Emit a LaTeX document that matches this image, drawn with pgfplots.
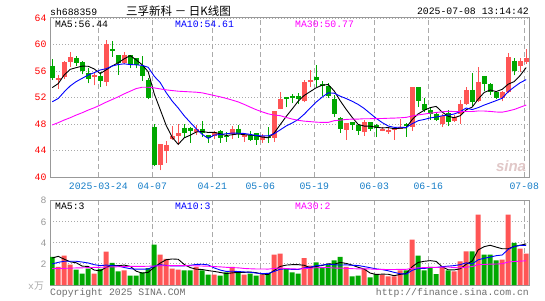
\documentclass[border=0pt]{standalone}
\usepackage{pgfplots}
\pgfplotsset{compat=1.18}
\usepackage{pgfplotstable}
\usepackage{fontspec}
\setmainfont{Liberation Mono}
\newfontfamily\cjk{Noto Sans CJK SC}
\newfontfamily\sinafont{Liberation Sans}
\definecolor{cred}{RGB}{255,85,85}
\definecolor{cgreen}{RGB}{0,168,0}
\definecolor{dateblue}{RGB}{22,126,200}
\definecolor{framegray}{RGB}{153,153,153}
\definecolor{gridgray}{RGB}{170,170,170}
\definecolor{txtgray}{RGB}{110,110,110}
\definecolor{magma}{RGB}{255,0,255}

\pgfplotstableread{
i o h l c v
1 54.63 55.39 53.32 55.0 1.71
2 55.04 57.5 54.8 57.35 2.78
3 57.37 58.89 56.66 58.05 1.93
7 55.09 55.75 53.82 55.35 1.08
9 54.4 60.7 53.7 60.1 3.16
12 57.2 58.85 57.0 58.35 1.39
18 41.8 45.0 41.0 45.0 2.88
19 43.9 45.4 42.1 44.9 2.47
20 45.75 47.7 45.6 46.25 1.55
21 46.2 48.0 44.9 46.7 1.46
24 46.8 47.9 46.4 47.3 1.71
27 46.15 46.95 45.7 46.85 0.98
30 46.45 47.65 45.75 47.3 1.71
32 46.1 46.5 45.3 46.3 0.98
35 45.6 46.45 45.1 46.2 0.98
37 45.9 50.0 45.3 50.0 2.88
38 50.3 52.85 50.2 51.8 2.97
42 51.4 54.6 51.25 54.35 2.56
43 54.3 56.15 53.55 54.7 1.84
49 47.15 48.2 45.65 48.15 1.71
52 46.75 48.65 46.25 48.3 1.52
55 46.95 47.6 46.9 47.3 0.98
56 46.8 47.5 46.55 47.15 0.82
57 47.15 47.6 45.6 47.45 0.82
58 47.25 48.7 47.2 47.55 1.39
60 47.6 53.6 47.0 53.55 4.3
65 48.05 49.55 47.55 49.25 1.71
67 48.4 49.3 48.3 49.05 1.3
68 49.55 51.55 48.05 51.05 2.25
69 51.05 53.55 50.85 53.15 3.2
71 51.4 56.65 51.3 54.3 6.68
75 52.0 53.0 51.4 52.9 2.41
76 52.8 58.75 52.65 58.1 6.68
78 56.8 58.0 55.8 57.55 3.45
79 57.3 59.3 57.05 58.0 2.97
}\redtab

\pgfplotstableread{
i o h l c v
0 56.76 57.77 54.63 54.9 2.66
4 57.97 58.33 56.81 57.25 1.46
5 57.37 57.57 55.49 56.05 1.08
6 55.65 56.5 54.13 54.85 1.55
8 55.24 55.8 53.52 54.55 1.52
10 59.34 60.56 58.18 58.95 2.09
11 58.43 58.45 55.45 57.25 1.3
13 58.35 58.4 56.4 56.95 0.89
14 57.95 58.0 56.4 56.9 0.89
15 56.8 58.2 54.5 55.2 1.2
16 54.65 55.0 51.7 52.0 1.61
17 47.6 48.0 41.6 41.8 3.83
22 47.45 48.0 45.9 46.7 1.39
23 47.4 47.5 45.2 47.0 1.39
25 47.3 48.4 46.1 46.7 1.39
26 46.3 46.4 45.2 45.9 0.98
28 47.0 47.05 45.2 45.85 0.89
29 46.2 46.8 45.3 46.0 1.2
31 47.3 47.9 45.9 46.5 1.2
33 46.35 46.9 45.5 45.55 1.08
34 46.6 46.65 44.9 45.6 0.89
36 46.1 47.5 45.1 45.9 1.08
39 52.05 52.1 50.5 51.8 1.52
40 52.3 52.6 51.1 51.85 1.2
41 52.25 52.65 51.0 51.75 1.08
44 55.1 56.85 53.6 54.7 2.15
45 54.05 54.5 52.3 53.8 1.61
46 53.75 54.2 51.9 52.25 1.93
47 51.8 52.4 49.05 49.5 2.34
48 48.9 49.0 46.65 47.3 2.66
50 48.25 48.3 47.15 47.8 0.82
51 47.85 48.05 46.4 46.9 0.89
53 48.3 48.35 47.0 47.2 0.73
54 47.9 48.05 46.0 47.35 1.04
59 48.05 48.1 46.1 47.7 1.39
61 53.55 53.6 50.55 51.4 2.78
62 51.05 51.9 49.8 50.15 1.39
63 50.15 50.6 48.65 49.55 1.71
64 49.55 49.6 48.5 48.65 1.04
66 49.65 50.15 47.65 48.25 1.39
70 53.15 55.65 50.75 51.25 3.2
72 55.25 55.3 52.95 54.05 2.88
73 54.1 54.15 52.4 52.9 2.88
74 52.9 53.0 51.7 52.0 2.34
77 57.55 58.0 55.35 56.05 3.99
}\greentab

\pgfplotstableread{
i m5 m10 m30 v5 v10 v30
0 53.5 51.35 47.85 2.56 2.0 1.55
1 54.1 51.85 48.2 2.72 2.15 1.57
2 55.4 52.85 48.6 2.45 2.25 1.58
3 56.25 53.75 48.95 2.2 2.25 1.6
4 56.51 54.4 49.35 2.11 2.25 1.62
5 56.74 54.9 49.7 1.79 2.18 1.63
6 56.71 55.4 50.1 1.76 2.09 1.65
7 56.31 55.75 50.45 1.42 1.93 1.67
8 55.61 56.15 50.85 1.34 1.84 1.68
9 56.18 56.35 51.3 1.68 1.89 1.7
10 56.76 56.75 51.7 1.88 1.84 1.72
11 57.24 56.98 52.1 1.83 1.8 1.73
12 57.84 57.08 52.55 1.89 1.66 1.75
13 58.32 56.97 52.95 1.77 1.55 1.76
14 57.68 56.93 53.35 1.31 1.5 1.77
15 56.93 56.85 53.55 1.13 1.51 1.77
16 55.88 56.56 53.55 1.2 1.51 1.78
17 52.57 55.21 53.45 1.68 1.79 1.8
18 50.18 54.25 53.3 2.08 1.92 1.82
19 47.78 52.73 53.15 2.4 1.86 1.83
20 45.99 51.46 53.05 2.47 1.8 1.84
21 44.93 50.41 52.95 2.44 1.82 1.84
22 45.91 49.24 52.9 1.95 1.82 1.84
23 46.31 48.25 52.85 1.65 1.87 1.83
24 46.79 47.29 52.8 1.5 1.95 1.82
25 46.88 46.44 52.7 1.47 1.97 1.8
26 46.72 45.83 52.5 1.37 1.91 1.78
27 46.75 46.33 52.3 1.29 1.62 1.75
28 46.52 46.42 52.1 1.19 1.42 1.72
29 46.26 46.53 51.87 1.09 1.29 1.68
30 46.38 46.63 51.61 1.15 1.31 1.65
31 46.5 46.61 51.33 1.2 1.28 1.63
32 46.39 46.57 50.96 1.2 1.24 1.57
33 46.33 46.43 50.55 1.23 1.21 1.54
34 46.25 46.26 50.16 1.17 1.13 1.52
35 46.03 46.21 49.83 1.03 1.09 1.52
36 45.91 46.21 49.53 1.0 1.1 1.51
37 46.65 46.52 49.35 1.38 1.29 1.57
38 47.9 47.12 49.26 1.76 1.5 1.61
39 49.14 47.7 48.98 1.89 1.53 1.56
40 50.27 48.15 48.75 1.93 1.48 1.53
41 51.44 48.68 48.56 1.93 1.47 1.52
42 52.31 49.48 48.43 1.87 1.62 1.56
43 52.89 50.4 48.36 1.64 1.7 1.59
44 53.47 51.31 48.28 1.77 1.83 1.64
45 53.86 52.07 48.24 1.85 1.89 1.65
46 53.96 52.7 48.24 2.02 1.97 1.66
47 52.99 52.65 48.5 1.97 1.92 1.61
48 51.51 52.2 48.58 2.14 1.89 1.6
49 50.2 51.84 48.69 2.05 1.91 1.58
50 49.0 51.43 48.74 1.89 1.87 1.55
51 47.93 50.95 48.74 1.68 1.85 1.53
52 47.69 50.34 48.8 1.52 1.75 1.54
53 47.67 49.59 48.8 1.13 1.64 1.52
54 47.51 48.86 48.81 1.0 1.53 1.49
55 47.41 48.21 48.83 1.03 1.46 1.48
56 47.46 47.7 48.87 1.02 1.35 1.47
57 47.29 47.49 48.89 0.88 1.2 1.47
58 47.36 47.52 48.94 1.01 1.07 1.49
59 47.43 47.47 49.0 1.08 1.04 1.49
60 48.68 48.05 49.21 1.74 1.39 1.58
61 49.53 48.5 49.37 2.14 1.58 1.63
62 50.07 48.68 49.5 2.25 1.56 1.65
63 50.47 48.92 49.63 2.31 1.66 1.67
64 50.66 49.05 49.74 2.24 1.66 1.67
65 49.8 49.24 49.84 1.73 1.74 1.7
66 49.17 49.35 49.92 1.45 1.79 1.71
67 48.95 49.51 49.88 1.43 1.84 1.65
68 49.25 49.86 49.86 1.54 1.93 1.63
69 50.15 50.41 49.9 1.97 2.11 1.69
70 50.55 50.18 49.88 2.27 2.0 1.75
71 51.76 50.47 49.97 3.33 2.39 1.94
72 52.76 50.86 49.96 3.64 2.54 1.95
73 53.13 51.19 49.9 3.77 2.65 1.98
74 52.9 51.53 49.81 3.6 2.78 1.99
75 53.23 51.89 49.78 3.44 2.85 2.02
76 54.01 52.88 49.97 3.44 3.38 2.18
77 54.4 53.58 50.19 3.66 3.65 2.23
78 55.33 54.23 50.53 3.77 3.77 2.26
79 56.52 54.7 50.86 3.9 3.75 2.3
}\matab

\pgfplotsset{
  sinaaxis/.style={
    scale only axis, anchor=south west,
    xmin=-0.37, xmax=79.47,
    axis line style={draw=framegray, line width=1pt},
    major tick length=0pt,
    xtick={7.68,16.68,26.68,34.68,43.68,53.68,62.68,78.68},
    xmajorgrids, ymajorgrids,
    x grid style={draw=gridgray, line width=0.9pt, dash pattern=on 5pt off 3pt},
    y grid style={draw=gridgray, line width=0.9pt, dash pattern=on 1pt off 2pt},
    /pgf/number format/assume math mode=true,
    ticklabel style={font=\fontsize{9.8}{10}\selectfont},
  }
}

\begin{document}
\begin{tikzpicture}[x=1pt,y=1pt]
\useasboundingbox (0,0) rectangle (545,300);
\fill[white] (0,0) rectangle (545,300);

% main candlestick panel
\begin{axis}[sinaaxis,
  at={(50pt,123pt)}, width=479pt, height=159pt,
  ymin=40, ymax=64, ytick={40,44,...,64},
  yticklabel style={text=red},
  xticklabels={2025-03-24,04-07,04-21,05-06,05-19,06-03,06-16,07-08},
  xticklabel style={text=dateblue, yshift=-2pt},
]
\addplot[quiver={u=0, v=\thisrow{h}-\thisrow{l}}, draw=cred, line width=1pt] table[x=i, y=l]{\redtab};
\addplot[quiver={u=0, v=\thisrow{c}-\thisrow{o}}, draw=cred, line width=5pt] table[x=i, y=o]{\redtab};
\addplot[quiver={u=0, v=\thisrow{h}-\thisrow{l}}, draw=cgreen, line width=1pt] table[x=i, y=l]{\greentab};
\addplot[quiver={u=0, v=\thisrow{c}-\thisrow{o}}, draw=cgreen, line width=5pt] table[x=i, y=o]{\greentab};
\addplot[black, line width=0.9pt] table[x=i, y=m5]{\matab};
\addplot[blue, line width=0.9pt] table[x=i, y=m10]{\matab};
\addplot[magma, line width=0.9pt] table[x=i, y=m30]{\matab};
\end{axis}

% volume panel
\begin{axis}[sinaaxis,
  at={(50pt,15pt)}, width=479pt, height=84.3pt,
  ymin=0, ymax=8, ytick={2,4,6,8},
  yticklabel style={text=framegray},
  xticklabels={},
]
\addplot[ybar, bar width=5pt, bar shift=0pt, fill=cred, draw=none] table[x=i, y=v]{\redtab};
\addplot[ybar, bar width=5pt, bar shift=0pt, fill=cgreen, draw=none] table[x=i, y=v]{\greentab};
\addplot[black, line width=0.9pt] table[x=i, y=v5]{\matab};
\addplot[blue, line width=0.9pt] table[x=i, y=v10]{\matab};
\addplot[magma, line width=0.9pt] table[x=i, y=v30]{\matab};
\end{axis}

\begin{scope}[every node/.style={inner sep=0pt, font=\fontsize{9.8}{10}\selectfont}]
\node[anchor=west] at (50,288.5) {sh688359};
\node at (178.5,288.5) {\cjk\fontsize{11.5}{12}\selectfont 三孚新科 － 日K线图};
\node[anchor=east] at (529,288.5) {2025-07-08 13:14:42};
\node[anchor=west] at (55,276) {MA5:56.44};
\node[anchor=west, text=blue] at (175,276) {MA10:54.61};
\node[anchor=west, text=magma] at (295,276) {MA30:50.77};
\node[anchor=west] at (55,94) {MA5:3};
\node[anchor=west, text=blue] at (175,94) {MA10:3};
\node[anchor=west, text=magma] at (295,94) {MA30:2};
\node[anchor=west, text=txtgray] at (50,7.3) {Copyright 2025 SINA.COM};
\node[anchor=east, text=txtgray] at (529,7.3) {http://finance.sina.com.cn};
\node[anchor=east, text=gridgray] at (44,14) {x\cjk 万};
\node[text={rgb,255:red,225;green,200;blue,200}, font=\sinafont\bfseries\itshape\fontsize{15}{15}\selectfont] at (511,134) {sina};
\end{scope}
\end{tikzpicture}
\end{document}
